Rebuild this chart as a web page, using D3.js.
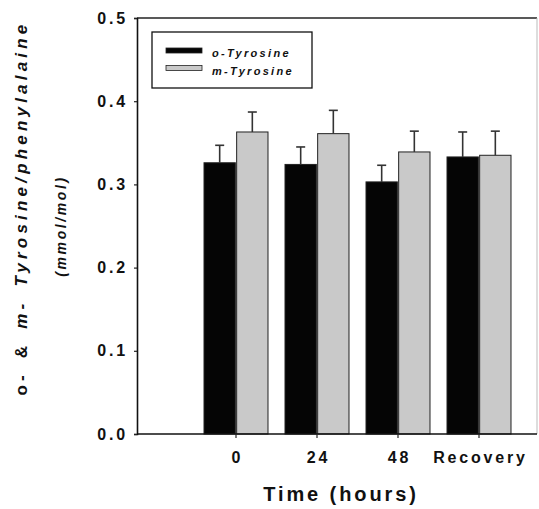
<!DOCTYPE html>
<html>
<head>
<meta charset="utf-8">
<script src="https://cdn.jsdelivr.net/npm/d3@7"></script>
<style>
  body { margin: 0; background: #fff; }
  text { font-family: "Liberation Sans", Arial, sans-serif; font-weight: bold; fill: #111; }
</style>
</head>
<body>
<svg width="539" height="509"></svg>
<script>
"use strict";

// data
var categories = ["0", "24", "48", "Recovery"];
var series = ["o-Tyrosine", "m-Tyrosine"];
var oTyrosine = [0.326, 0.324, 0.303, 0.333];
var mTyrosine = [0.363, 0.361, 0.339, 0.335];
var oSem = [0.021, 0.021, 0.020, 0.030];
var mSem = [0.024, 0.028, 0.025, 0.029];
var yTicks = [0.0, 0.1, 0.2, 0.3, 0.4, 0.5];

var colors = { "o-Tyrosine": "#050505", "m-Tyrosine": "#c9c9c9" };

var svg = d3.select("svg");

var plot = { left: 137, right: 537, top: 18, bottom: 434 };

var y = d3.scaleLinear().domain([0, 0.5]).range([plot.bottom, plot.top]);

var x0 = d3.scaleBand().domain(categories)
  .range([195.5, 519.5])
  .paddingInner(0.21)
  .paddingOuter(0.105);

var x1 = d3.scaleBand().domain(series)
  .range([0, x0.bandwidth()])
  .paddingInner(0.04);

var rows = categories.map(function (c, i) {
  return {
    cat: c,
    vals: [
      { key: series[0], v: oTyrosine[i], e: oSem[i] },
      { key: series[1], v: mTyrosine[i], e: mSem[i] }
    ]
  };
});

// frame
svg.append("line")
  .attr("x1", plot.left).attr("x2", plot.right)
  .attr("y1", plot.top).attr("y2", plot.top)
  .attr("stroke", "#222").attr("stroke-width", 1.5);
svg.append("line")
  .attr("x1", plot.right).attr("x2", plot.right)
  .attr("y1", plot.top).attr("y2", plot.bottom)
  .attr("stroke", "#bbb").attr("stroke-width", 1);

// bars
var groups = svg.append("g").selectAll("g")
  .data(rows).enter().append("g")
  .attr("transform", function (d) { return "translate(" + x0(d.cat) + ",0)"; });

groups.selectAll("rect")
  .data(function (d) { return d.vals; })
  .enter().append("rect")
  .attr("x", function (d) { return x1(d.key); })
  .attr("y", function (d) { return y(d.v); })
  .attr("width", x1.bandwidth())
  .attr("height", function (d) { return y(0) - y(d.v); })
  .attr("fill", function (d) { return colors[d.key]; })
  .attr("stroke", "#222")
  .attr("stroke-width", 1);

// error bars (upper only)
var err = groups.selectAll("g.err")
  .data(function (d) { return d.vals; })
  .enter().append("g").attr("class", "err")
  .attr("stroke", "#333").attr("stroke-width", 1.6);

err.append("line")
  .attr("x1", function (d) { return x1(d.key) + x1.bandwidth() / 2; })
  .attr("x2", function (d) { return x1(d.key) + x1.bandwidth() / 2; })
  .attr("y1", function (d) { return y(d.v); })
  .attr("y2", function (d) { return y(d.v + d.e); });

err.append("line")
  .attr("x1", function (d) { return x1(d.key) + x1.bandwidth() / 2 - 4.5; })
  .attr("x2", function (d) { return x1(d.key) + x1.bandwidth() / 2 + 4.5; })
  .attr("y1", function (d) { return y(d.v + d.e); })
  .attr("y2", function (d) { return y(d.v + d.e); });

// axes
var yAxis = svg.append("g")
  .attr("transform", "translate(" + plot.left + ",0)")
  .call(d3.axisLeft(y).tickValues(yTicks).tickFormat(d3.format(".1f")).tickSize(3).tickPadding(6));

var xAxis = svg.append("g")
  .attr("transform", "translate(0," + plot.bottom + ")")
  .call(d3.axisBottom(x0).tickSize(4).tickPadding(14).tickSizeOuter(0));

xAxis.select(".domain").attr("d", "M" + plot.left + ",0H" + plot.right);

[yAxis, xAxis].forEach(function (a) {
  a.select(".domain").attr("stroke", "#111").attr("stroke-width", 1.6);
  a.selectAll(".tick line").attr("stroke", "#222").attr("stroke-width", 1.2);
  a.selectAll(".tick text")
    .attr("fill", "#111")
    .style("font-family", "'Liberation Sans', Arial, sans-serif")
    .style("font-weight", "bold")
    .style("font-size", "16px")
    .style("letter-spacing", "2.8px");
});
xAxis.selectAll(".tick text").attr("dx", "1.4px");

// axis titles
svg.append("text")
  .attr("x", 341).attr("y", 501)
  .attr("text-anchor", "middle")
  .style("font-size", "20px")
  .style("letter-spacing", "2.9px")
  .text("Time (hours)");

var yt = svg.append("text")
  .attr("transform", "translate(27,208) rotate(-90)")
  .attr("text-anchor", "middle")
  .style("font-size", "17px")
  .style("letter-spacing", "4.2px")
  .style("word-spacing", "4px");
yt.append("tspan").text("o- & ");
yt.append("tspan").style("font-style", "italic").text("m- Tyrosine/phenylalaine");

svg.append("text")
  .attr("transform", "translate(66,226) rotate(-90)")
  .attr("text-anchor", "middle")
  .style("font-size", "14px")
  .style("font-style", "italic")
  .style("letter-spacing", "2.6px")
  .text("(mmol/mol)");

// legend
var legend = svg.append("g").attr("transform", "translate(152,32)");
legend.append("rect")
  .attr("width", 160).attr("height", 56)
  .attr("fill", "#fff").attr("stroke", "#111").attr("stroke-width", 1.3);

var li = legend.selectAll("g.item")
  .data(series).enter().append("g").attr("class", "item")
  .attr("transform", function (d, i) { return "translate(14," + (16 + i * 17.5) + ")"; });

li.append("rect")
  .attr("width", 36).attr("height", 5)
  .attr("fill", function (d) { return colors[d]; })
  .attr("stroke", "#222").attr("stroke-width", 0.8);

li.append("text")
  .attr("x", 46).attr("y", 9)
  .style("font-size", "11px")
  .style("font-style", "italic")
  .style("letter-spacing", "2.3px")
  .text(function (d) { return d; });
</script>
</body>
</html>
